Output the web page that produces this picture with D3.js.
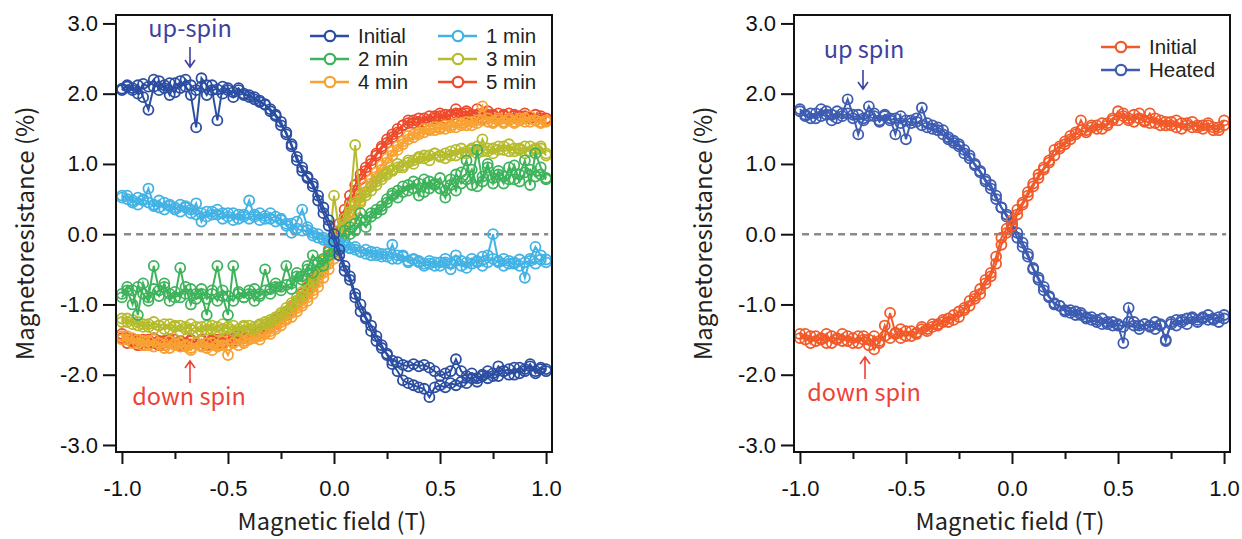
<!DOCTYPE html>
<html><head><meta charset="utf-8">
<script src="https://cdn.jsdelivr.net/npm/d3@7"></script>
<style>body{margin:0;background:#fff}svg{display:block}</style>
</head><body>
<svg id="chart" width="1242" height="539"></svg>
<script>
// ---------- DATA ----------
const fieldT = [-1.000,-0.975,-0.950,-0.925,-0.900,-0.875,-0.850,-0.825,-0.800,-0.775,
-0.750,-0.725,-0.700,-0.675,-0.650,-0.625,-0.600,-0.575,-0.550,-0.525,
-0.500,-0.475,-0.450,-0.425,-0.400,-0.375,-0.350,-0.325,-0.300,-0.275,
-0.250,-0.225,-0.200,-0.175,-0.150,-0.125,-0.100,-0.075,-0.050,-0.025,
0.000,0.025,0.050,0.075,0.100,0.125,0.150,0.175,0.200,0.225,
0.250,0.275,0.300,0.325,0.350,0.375,0.400,0.425,0.450,0.475,
0.500,0.525,0.550,0.575,0.600,0.625,0.650,0.675,0.700,0.725,
0.750,0.775,0.800,0.825,0.850,0.875,0.900,0.925,0.950,0.975,1.000];

const xTickLabels = ["-1.0","-0.5","0.0","0.5","1.0"];
const xTickValues = [-1,-0.5,0,0.5,1];
const xMinorTicks = [-0.75,-0.25,0.25,0.75];
const yTickValues = [-3,-2,-1,0,1,2,3];
const yTickLabels = ["-3.0","-2.0","-1.0","0.0","1.0","2.0","3.0"];

// Left panel (time series)
const leftNames = ["Initial","1 min","2 min","3 min","4 min","5 min"];
const initialA = [2.07,2.10,2.05,2.12,1.95,1.77,2.10,2.18,2.08,2.15,
2.02,2.18,2.10,1.98,1.52,2.22,2.12,2.05,1.62,2.10,
2.05,2.02,2.08,1.98,1.98,1.92,1.90,1.84,1.78,1.70,
1.60,1.42,1.28,1.05,0.95,0.80,0.68,0.48,0.30,0.12,
-0.10,-0.30,-0.52,-0.65,-0.90,-1.10,-1.20,-1.38,-1.52,-1.62,
-1.70,-1.80,-1.82,-1.86,-1.88,-1.85,-1.88,-1.86,-1.90,-1.95,
-2.02,-1.98,-1.95,-1.78,-1.95,-2.02,-1.98,-2.05,-2.00,-1.95,
-2.02,-1.88,-1.95,-1.92,-2.00,-1.90,-1.95,-1.85,-1.98,-1.90,-1.95];
const initialB = [2.05,2.12,2.08,2.00,2.14,2.10,2.20,2.05,2.12,1.98,
2.15,2.08,2.20,2.12,2.05,2.10,1.98,2.12,2.06,2.00,
2.08,1.95,2.05,2.00,1.95,1.95,1.88,1.85,1.75,1.68,
1.55,1.45,1.25,1.10,0.90,0.82,0.72,0.55,0.38,0.20,
0.00,-0.22,-0.45,-0.60,-0.85,-1.00,-1.18,-1.30,-1.45,-1.58,
-1.72,-1.85,-1.95,-2.08,-2.12,-2.15,-2.18,-2.20,-2.32,-2.18,
-2.15,-2.18,-2.12,-2.15,-2.10,-2.12,-2.05,-2.10,-2.02,-2.05,
-1.98,-2.02,-1.95,-2.00,-1.90,-1.98,-1.92,-1.88,-1.95,-1.92,-1.92];
const min1A = [0.55,0.50,0.45,0.52,0.48,0.65,0.42,0.38,0.45,0.40,
0.35,0.42,0.38,0.30,0.44,0.18,0.32,0.28,0.35,0.30,
0.25,0.30,0.22,0.28,0.48,0.25,0.30,0.22,0.30,0.25,
0.20,0.15,0.02,0.18,0.35,0.10,0.02,0.00,-0.05,-0.08,
-0.12,-0.15,-0.18,-0.20,-0.22,-0.25,-0.28,-0.25,-0.30,-0.28,
-0.32,-0.15,-0.35,-0.30,-0.38,-0.35,-0.40,-0.42,-0.38,-0.45,
-0.40,-0.35,-0.42,-0.30,-0.38,-0.48,-0.35,-0.40,-0.32,-0.30,
0.00,-0.38,-0.35,-0.42,-0.40,-0.36,-0.62,-0.35,-0.18,-0.30,-0.36];
const min1B = [0.52,0.55,0.48,0.42,0.50,0.45,0.40,0.48,0.35,0.42,
0.38,0.32,0.40,0.35,0.28,0.30,0.25,0.32,0.28,0.22,
0.30,0.20,0.28,0.25,0.22,0.28,0.20,0.26,0.22,0.18,
0.22,0.12,0.15,0.08,0.05,0.06,-0.02,-0.05,-0.08,-0.10,
-0.10,-0.12,-0.15,-0.20,-0.18,-0.25,-0.22,-0.30,-0.26,-0.32,
-0.28,-0.35,-0.30,-0.32,-0.40,-0.36,-0.38,-0.45,-0.42,-0.40,
-0.45,-0.40,-0.50,-0.38,-0.45,-0.40,-0.42,-0.38,-0.45,-0.40,
-0.35,-0.40,-0.45,-0.38,-0.42,-0.45,-0.40,-0.38,-0.42,-0.36,-0.40];
const min2A = [-0.85,-0.75,-0.80,-1.15,-0.70,-0.90,-0.45,-0.80,-0.75,-0.85,
-0.90,-0.48,-0.85,-0.78,-0.92,-0.85,-1.15,-0.80,-0.45,-0.88,
-1.15,-0.45,-0.85,-0.90,-0.80,-0.95,-0.85,-0.50,-0.78,-0.70,
-0.75,-0.45,-0.70,-0.55,-0.60,-0.50,-0.30,-0.40,-0.35,-0.25,
-0.15,-0.10,0.05,0.10,0.15,0.30,0.20,0.30,0.35,0.40,
0.50,0.55,0.62,0.60,0.70,0.65,0.72,0.60,0.75,0.70,
0.65,0.52,0.78,0.62,0.88,1.05,0.70,1.20,0.75,0.95,
0.80,0.85,0.72,0.95,0.78,0.85,1.05,0.70,1.15,0.95,0.80];
const min2B = [-0.90,-0.80,-1.00,-0.75,-0.85,-0.95,-0.78,-0.88,-0.70,-0.95,
-0.82,-0.90,-0.75,-1.00,-0.85,-0.78,-0.92,-0.85,-0.95,-0.80,
-0.88,-0.95,-0.82,-0.90,-0.85,-0.78,-0.88,-0.80,-0.85,-0.75,
-0.80,-0.72,-0.78,-0.60,-0.65,-0.45,-0.55,-0.40,-0.45,-0.30,
-0.25,-0.20,-0.10,0.00,0.05,0.20,0.10,0.25,0.30,0.35,
0.45,0.58,0.52,0.68,0.62,0.75,0.55,0.78,0.65,0.72,
0.80,0.62,0.70,0.85,0.72,0.78,0.92,0.68,0.82,1.00,
0.72,0.90,0.82,0.78,0.98,0.75,0.88,0.92,0.82,0.85,0.78];
const min3A = [-1.20,-1.25,-1.22,-1.30,-1.28,-1.32,-1.25,-1.30,-1.35,-1.28,
-1.32,-1.30,-1.35,-1.28,-1.32,-1.38,-1.30,-1.35,-1.32,-1.28,
-1.35,-1.30,-1.38,-1.32,-1.30,-1.35,-1.28,-1.25,-1.22,-1.18,
-1.12,-1.05,-0.98,-0.90,-0.82,-0.70,-0.62,-0.50,-0.38,-0.25,
0.55,0.05,0.22,0.40,1.27,0.45,0.55,0.62,0.70,0.78,
0.85,0.90,0.95,0.98,1.02,1.05,1.10,1.08,1.12,1.15,
1.10,1.15,1.12,1.20,1.15,1.18,1.22,1.15,1.35,1.18,
1.22,1.20,1.25,1.18,1.22,1.20,1.25,1.18,1.22,1.25,1.15];
const min3B = [-1.25,-1.20,-1.28,-1.25,-1.32,-1.28,-1.35,-1.30,-1.28,-1.35,
-1.30,-1.38,-1.32,-1.35,-1.40,-1.32,-1.36,-1.30,-1.38,-1.35,
-1.32,-1.38,-1.35,-1.30,-1.35,-1.32,-1.30,-1.28,-1.25,-1.20,
-1.15,-1.10,-1.02,-0.95,-0.88,-0.78,-0.68,-0.55,-0.42,-0.30,
-0.15,0.00,0.15,0.32,0.45,0.52,0.60,0.68,0.75,0.82,
0.88,0.92,1.00,0.95,1.05,1.00,1.08,1.12,1.05,1.15,
1.12,1.08,1.18,1.12,1.22,1.15,1.20,1.25,1.18,1.22,
1.15,1.25,1.20,1.28,1.18,1.22,1.15,1.25,1.20,1.22,1.12];
const min4A = [-1.45,-1.50,-1.48,-1.55,-1.52,-1.58,-1.50,-1.55,-1.62,-1.52,
-1.58,-1.55,-1.60,-1.65,-1.55,-1.58,-1.62,-1.55,-1.60,-1.58,
-1.72,-1.55,-1.58,-1.52,-1.50,-1.48,-1.45,-1.42,-1.38,-1.32,
-1.25,-1.20,-1.12,-1.05,-0.98,-0.90,-0.80,-0.68,-0.55,-0.42,
-0.28,-0.10,0.10,0.28,0.42,0.55,0.68,0.78,0.88,0.98,
1.08,1.18,1.25,1.32,1.40,1.42,1.45,1.50,1.48,1.52,
1.50,1.55,1.52,1.58,1.55,1.60,1.55,1.62,1.82,1.60,
1.58,1.65,1.60,1.62,1.58,1.65,1.60,1.68,1.62,1.60,1.62];
const min4B = [-1.50,-1.45,-1.55,-1.50,-1.58,-1.52,-1.60,-1.55,-1.58,-1.62,
-1.55,-1.60,-1.58,-1.62,-1.55,-1.60,-1.55,-1.65,-1.58,-1.52,
-1.58,-1.55,-1.50,-1.55,-1.48,-1.45,-1.50,-1.40,-1.42,-1.35,
-1.30,-1.22,-1.18,-1.10,-1.02,-0.95,-0.85,-0.75,-0.62,-0.50,
-0.35,-0.18,0.00,0.18,0.35,0.48,0.60,0.72,0.82,0.92,
1.02,1.12,1.20,1.28,1.35,1.38,1.42,1.45,1.50,1.48,
1.52,1.50,1.55,1.52,1.58,1.55,1.60,1.58,1.62,1.65,
1.60,1.62,1.58,1.65,1.60,1.62,1.65,1.60,1.62,1.58,1.60];
const min5A = [-1.42,-1.48,-1.52,-1.58,-1.50,-1.55,-1.48,-1.52,-1.58,-1.50,
-1.55,-1.52,-1.58,-1.50,-1.55,-1.52,-1.58,-1.50,-1.55,-1.52,
-1.48,-1.52,-1.45,-1.48,-1.42,-1.45,-1.40,-1.35,-1.30,-1.28,
-1.20,-1.15,-1.05,-0.98,-0.90,-0.82,-0.70,-0.58,-0.45,-0.30,
-0.15,0.05,0.25,0.45,0.62,0.78,0.90,1.00,1.12,1.22,
1.30,1.38,1.45,1.55,1.62,1.58,1.60,1.65,1.62,1.68,
1.72,1.65,1.70,1.78,1.72,1.75,1.70,1.78,1.72,1.75,
1.70,1.72,1.68,1.72,1.70,1.68,1.72,1.65,1.70,1.68,1.65];
const min5B = [-1.48,-1.55,-1.50,-1.52,-1.58,-1.50,-1.55,-1.58,-1.52,-1.55,
-1.50,-1.58,-1.55,-1.52,-1.56,-1.50,-1.55,-1.52,-1.50,-1.55,
-1.50,-1.48,-1.50,-1.45,-1.42,-1.40,-1.38,-1.32,-1.28,-1.22,
-1.18,-1.10,-1.02,-0.95,-0.85,-0.75,-0.65,-0.52,-0.38,-0.22,
-0.05,0.15,0.35,0.55,0.70,0.85,0.95,1.05,1.15,1.25,
1.35,1.42,1.50,1.55,1.58,1.62,1.65,1.60,1.68,1.65,
1.68,1.70,1.68,1.72,1.68,1.72,1.68,1.70,1.65,1.70,
1.68,1.65,1.70,1.65,1.68,1.62,1.68,1.65,1.62,1.65,1.62];

// Right panel
const rightNames = ["Initial","Heated"];
const heatedA = [1.78,1.70,1.65,1.72,1.68,1.75,1.70,1.65,1.72,1.92,
1.70,1.42,1.65,1.82,1.68,1.62,1.70,1.65,1.42,1.68,
1.35,1.62,1.65,1.80,1.58,1.55,1.52,1.48,1.38,1.33,
1.28,1.20,1.12,0.98,0.88,0.75,0.70,0.55,0.38,0.28,
0.15,0.02,-0.12,-0.28,-0.48,-0.62,-0.75,-0.88,-1.00,-1.02,
-1.08,-1.12,-1.10,-1.15,-1.18,-1.22,-1.25,-1.20,-1.28,-1.25,
-1.30,-1.55,-1.05,-1.25,-1.30,-1.28,-1.32,-1.25,-1.30,-1.50,
-1.28,-1.22,-1.25,-1.20,-1.18,-1.22,-1.20,-1.15,-1.22,-1.18,-1.15];
const heatedB = [1.75,1.68,1.72,1.65,1.78,1.70,1.62,1.75,1.68,1.72,
1.65,1.70,1.62,1.68,1.72,1.60,1.68,1.62,1.65,1.58,
1.62,1.58,1.60,1.55,1.52,1.50,1.48,1.42,1.35,1.30,
1.25,1.15,1.08,1.00,0.90,0.78,0.65,0.50,0.38,0.25,
0.10,-0.05,-0.18,-0.32,-0.50,-0.65,-0.80,-0.90,-0.98,-1.02,
-1.10,-1.08,-1.15,-1.12,-1.20,-1.18,-1.22,-1.28,-1.25,-1.30,
-1.28,-1.32,-1.25,-1.30,-1.35,-1.28,-1.30,-1.35,-1.28,-1.52,
-1.25,-1.30,-1.22,-1.28,-1.20,-1.25,-1.18,-1.22,-1.20,-1.25,-1.20];
const initRA = [-1.42,-1.50,-1.45,-1.52,-1.48,-1.55,-1.45,-1.50,-1.42,-1.52,
-1.48,-1.55,-1.45,-1.50,-1.64,-1.52,-1.45,-1.12,-1.40,-1.48,
-1.38,-1.45,-1.40,-1.35,-1.38,-1.32,-1.28,-1.25,-1.20,-1.22,
-1.10,-1.05,-0.95,-0.88,-0.78,-0.65,-0.55,-0.32,-0.05,0.08,
0.20,0.35,0.45,0.60,0.72,0.80,0.95,1.05,1.20,1.25,
1.32,1.40,1.45,1.62,1.48,1.52,1.55,1.50,1.58,1.62,
1.75,1.68,1.62,1.70,1.65,1.60,1.72,1.58,1.62,1.55,
1.60,1.52,1.58,1.55,1.60,1.52,1.55,1.58,1.48,1.52,1.62];
const initRB = [-1.48,-1.42,-1.55,-1.45,-1.50,-1.42,-1.55,-1.48,-1.52,-1.45,
-1.55,-1.45,-1.50,-1.58,-1.45,-1.55,-1.30,-1.48,-1.42,-1.35,
-1.45,-1.38,-1.42,-1.32,-1.35,-1.28,-1.30,-1.22,-1.25,-1.15,
-1.18,-1.08,-1.02,-0.92,-0.85,-0.70,-0.60,-0.42,-0.15,0.02,
0.12,0.28,0.42,0.55,0.68,0.85,0.92,1.02,1.12,1.22,
1.28,1.35,1.42,1.48,1.45,1.55,1.50,1.58,1.55,1.65,
1.62,1.72,1.65,1.60,1.72,1.62,1.58,1.65,1.55,1.60,
1.55,1.62,1.50,1.58,1.52,1.55,1.50,1.55,1.52,1.48,1.55];

// ---------- DRAWING ----------
const svg = d3.select("#chart");
const tickFont = "'Liberation Sans', Arial, Helvetica, sans-serif";
const jpFont = "'Noto Sans CJK JP', 'Noto Sans', sans-serif";

function drawPanel(cfg) {
  const g = svg.append("g");
  const x = d3.scaleLinear().domain([-1.028, 1.028]).range([cfg.left, cfg.right]);
  const y = d3.scaleLinear().domain([-3.1, 3.12]).range([cfg.bottom, cfg.top]);

  // zero dashed line
  g.append("line").attr("x1", x(-0.99)).attr("x2", x(1.01)).attr("y1", y(0)).attr("y2", y(0))
    .attr("stroke", "#8a8a8a").attr("stroke-width", 2.4).attr("stroke-dasharray", "7,5");

  const line = d3.line().x((d, i) => x(fieldT[i])).y(d => y(d));
  cfg.series.forEach(s => {
    s.sweeps.forEach(vals => {
      g.append("path").datum(vals).attr("d", line).attr("fill", "none")
        .attr("stroke", s.color).attr("stroke-width", 2);
    });
    s.sweeps.forEach(vals => {
      g.selectAll(null).data(vals).enter().append("circle")
        .attr("cx", (d, i) => x(fieldT[i])).attr("cy", d => y(d)).attr("r", 5)
        .attr("fill", "none").attr("stroke", s.color).attr("stroke-width", 1.8);
    });
  });

  // frame
  g.append("rect").attr("x", cfg.left).attr("y", cfg.top)
    .attr("width", cfg.right - cfg.left).attr("height", cfg.bottom - cfg.top)
    .attr("fill", "none").attr("stroke", "#111").attr("stroke-width", 2);

  // axes
  const xa = g.append("g").attr("transform", `translate(0,${cfg.bottom})`)
    .call(d3.axisBottom(x).tickValues(xTickValues).tickSize(12).tickPadding(16)
      .tickFormat((d, i) => xTickLabels[i]));
  const xm = g.append("g").attr("transform", `translate(0,${cfg.bottom})`)
    .call(d3.axisBottom(x).tickValues(xMinorTicks).tickSize(7).tickFormat(""));
  const ya = g.append("g").attr("transform", `translate(${cfg.left},0)`)
    .call(d3.axisLeft(y).tickValues(yTickValues).tickSize(13).tickPadding(5)
      .tickFormat((d, i) => yTickLabels[i]));
  [xa, xm, ya].forEach(a => {
    a.select(".domain").remove();
    a.selectAll("line").attr("stroke", "#111").attr("stroke-width", 2);
    a.selectAll("text").attr("font-family", tickFont).attr("font-size", 22).attr("fill", "#111");
  });

  // titles
  g.append("text").attr("x", (cfg.left + cfg.right) / 2 - 2).attr("y", 530)
    .attr("text-anchor", "middle").attr("font-family", jpFont).attr("font-size", 23.5)
    .attr("fill", "#222").text("Magnetic field (T)");
  g.append("text").attr("transform", `translate(${cfg.left - 82},${(cfg.top + cfg.bottom) / 2}) rotate(-90)`)
    .attr("text-anchor", "middle").attr("font-family", jpFont).attr("font-size", 24)
    .attr("fill", "#222").text("Magnetoresistance (%)");

  // legend
  cfg.legend.forEach(L => {
    const lg = g.append("g").attr("transform", `translate(${L.x},${L.y})`);
    lg.append("line").attr("x1", -20).attr("x2", 19).attr("stroke", L.color).attr("stroke-width", 2.5);
    lg.append("circle").attr("r", 5.2).attr("fill", "#fff").attr("stroke", L.color).attr("stroke-width", 2.2);
    lg.append("text").attr("x", 28).attr("dy", "0.35em").attr("font-family", tickFont)
      .attr("font-size", 20.5).attr("fill", "#222").text(L.name);
  });

  // annotations
  cfg.notes.forEach(n => {
    g.append("text").attr("x", n.x).attr("y", n.y).attr("text-anchor", "middle")
      .attr("font-family", jpFont).attr("font-size", 23.5).attr("fill", n.color).text(n.text);
  });
  cfg.arrows.forEach(a => {
    const dir = a.y2 > a.y1 ? 1 : -1;
    g.append("path")
      .attr("d", `M${a.x},${a.y1}V${a.y2}M${a.x - 5},${a.y2 - dir * 7}L${a.x},${a.y2}L${a.x + 5},${a.y2 - dir * 7}`)
      .attr("fill", "none").attr("stroke", a.color).attr("stroke-width", 1.6);
  });
}

const upCol = "#3d41a0", downCol = "#ee4238";
const colInitial = "#2b4ea2", col1 = "#43b2e4", col2 = "#3db35b", col3 = "#b6bc2d", col4 = "#f7a233", col5 = "#ee4b2b";
drawPanel({
  left: 116, right: 552, top: 15, bottom: 452,
  series: [
    {color: col5, sweeps: [min5A, min5B]},
    {color: col4, sweeps: [min4A, min4B]},
    {color: col3, sweeps: [min3A, min3B]},
    {color: col2, sweeps: [min2A, min2B]},
    {color: col1, sweeps: [min1A, min1B]},
    {color: colInitial, sweeps: [initialA, initialB]}
  ],
  legend: [
    {name: leftNames[0], color: colInitial, x: 330, y: 36},
    {name: leftNames[2], color: col2, x: 330, y: 59},
    {name: leftNames[4], color: col4, x: 330, y: 82},
    {name: leftNames[1], color: col1, x: 458, y: 36},
    {name: leftNames[3], color: col3, x: 458, y: 59},
    {name: leftNames[5], color: col5, x: 458, y: 82}
  ],
  notes: [
    {text: "up-spin", x: 190, y: 37, color: upCol},
    {text: "down spin", x: 189, y: 405, color: downCol}
  ],
  arrows: [
    {x: 190, y1: 47, y2: 67, color: upCol},
    {x: 190, y1: 383, y2: 361, color: downCol}
  ]
});

const colRInit = "#f15a29", colHeated = "#3d5cb2";
drawPanel({
  left: 794, right: 1230, top: 15, bottom: 452,
  series: [
    {color: colHeated, sweeps: [heatedA, heatedB]},
    {color: colRInit, sweeps: [initRA, initRB]}
  ],
  legend: [
    {name: rightNames[0], color: colRInit, x: 1121, y: 47},
    {name: rightNames[1], color: colHeated, x: 1121, y: 70}
  ],
  notes: [
    {text: "up spin", x: 864, y: 58, color: upCol},
    {text: "down spin", x: 864, y: 401, color: downCol}
  ],
  arrows: [
    {x: 863, y1: 70, y2: 89, color: upCol},
    {x: 865, y1: 379, y2: 357, color: downCol}
  ]
});
</script>
</body></html>
